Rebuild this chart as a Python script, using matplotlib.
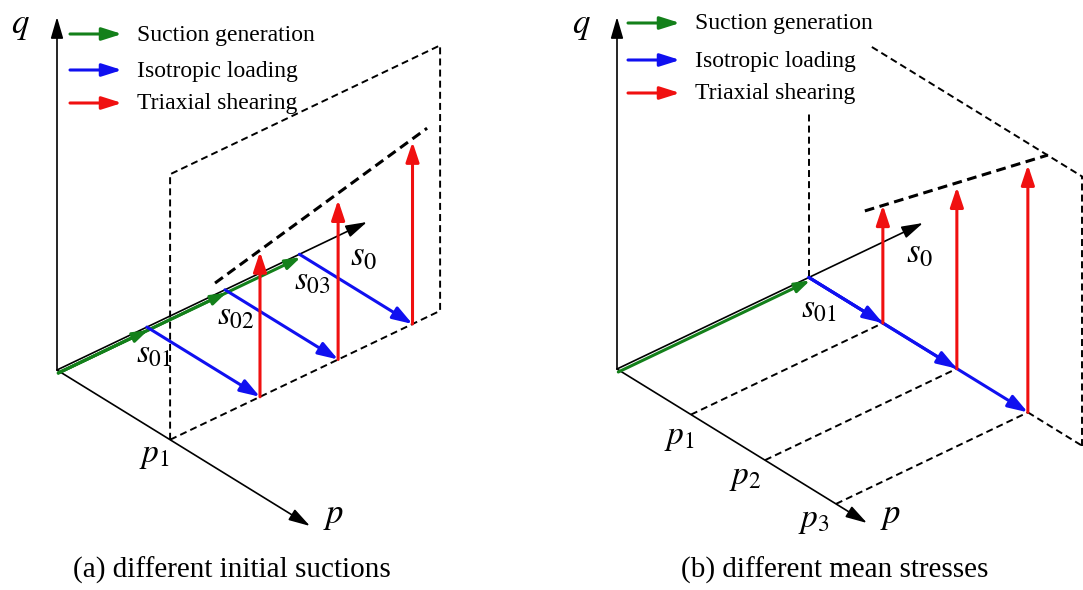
import numpy as np
import matplotlib.pyplot as plt
from matplotlib.patches import FancyArrowPatch

plt.rcParams['font.family'] = ['Liberation Serif', 'DejaVu Serif']
plt.rcParams['mathtext.fontset'] = 'stix'
plt.rcParams['lines.scale_dashes'] = False

# ---- data (diagram units: 1.0 = length of each axis arrow) ----
# panel (a): different initial suctions, one mean stress p1
s0_a = [0.29, 0.542, 0.782]          # s01, s02, s03
p1_a = 0.447
qpeak_a = [0.411, 0.452, 0.516]      # top of each shearing path
fail_a_s = [0.145, 0.829]            # failure line (in plane p = p1)
fail_a_q = [0.383, 0.535]
plane_a_s = 0.871
plane_a_q = 0.752

# panel (b): one suction s01, different mean stresses
s01_b = 0.627
p_b = [0.296, 0.592, 0.876]          # p1, p2, p3
qpeak_b = [0.335, 0.516, 0.703]
fail_b_p = [0.224, 0.956]            # failure line (in plane s = s01)
fail_b_q = [0.287, 0.766]
plane_b_p = 1.092
plane_b_q = 0.765
plane_b_top_p0 = 0.252
plane_b_left_q = 0.469

legend_labels = ['Suction generation', 'Isotropic loading', 'Triaxial shearing']
GREEN, BLUE, RED = '#13801a', '#1010f0', '#f01010'
legend_colors = [GREEN, BLUE, RED]

# ---- oblique projection of each panel (pixel space) ----
frames = {
    'a': dict(O=np.array([57., 370.]), P=np.array([253., 156.]),
              S=np.array([310., -148.]), Q=np.array([0., -353.])),
    'b': dict(O=np.array([617., 369.]), P=np.array([250., 154.]),
              S=np.array([306., -146.]), Q=np.array([0., -352.])),
}


def proj(f, p, s, q):
    return f['O'] + p * f['P'] + s * f['S'] + q * f['Q']


fig = plt.figure(figsize=(10.83, 5.90), dpi=100)
ax = fig.add_axes([0, 0, 1, 1])
ax.set_xlim(0, 1083)
ax.set_ylim(590, 0)
ax.axis('off')


def arrow(a, b, color, lw=2.2, hl=11, hw=3.8, z=3):
    ax.add_patch(FancyArrowPatch(tuple(a), tuple(b),
                                 arrowstyle=f'-|>,head_length={hl},head_width={hw}',
                                 mutation_scale=1, color=color, lw=lw,
                                 shrinkA=0, shrinkB=0, zorder=z))


def dashed(pts, lw=1.4, dashes=(5, 3), z=1):
    pts = np.array(pts)
    ax.plot(pts[:, 0], pts[:, 1], color='k', lw=lw, dashes=dashes, zorder=z)


def axes3(f):
    o = f['O']
    for v in ('P', 'S', 'Q'):
        arrow(o, o + f[v], 'k', lw=1.2, hl=13, hw=3.8, z=2)


def legend(x0, ys):
    for y, lab, c in zip(ys, legend_labels, legend_colors):
        arrow((x0, y), (x0 + 52, y), c, lw=2.2, hl=12, hw=3.8)
        ax.text(x0 + 67, y + 1, lab, fontsize=17, ha='left', va='center')


# offset of the green path just under the s axis
green_off = np.array([1.3, 3.0])

# ---------------- panel (a) ----------------
fa = frames['a']
axes3(fa)
# plane p = p1
dashed([proj(fa, p1_a, 0, 0), proj(fa, p1_a, 0, plane_a_q),
        proj(fa, p1_a, plane_a_s, plane_a_q), proj(fa, p1_a, plane_a_s, 0),
        proj(fa, p1_a, 0, 0)])
# failure line
dashed([proj(fa, p1_a, fail_a_s[0], fail_a_q[0]),
        proj(fa, p1_a, fail_a_s[1], fail_a_q[1])], lw=2.2, dashes=(7, 4))
for s, qp in zip(s0_a, qpeak_a):
    arrow(proj(fa, 0, 0, 0) + green_off, proj(fa, 0, s, 0) + green_off, GREEN,
          lw=2.2, hl=9, hw=3.0, z=3)
    arrow(proj(fa, 0, s, 0), proj(fa, p1_a, s, 0), BLUE, hl=12, hw=4.0, z=4)
    arrow(proj(fa, p1_a, s, 0), proj(fa, p1_a, s, qp), RED, hl=12, hw=4.0, z=5)
legend(70, [34, 70, 103])

ax.text(20, 25, '$q$', fontsize=25, ha='center', va='center')
ax.text(334, 515, '$p$', fontsize=25, ha='center', va='center')
ax.text(364, 257, '$s_0$', fontsize=25, ha='center', va='center')
ax.text(154, 456, '$p_1$', fontsize=24, ha='center', va='center')
for (x, y), lab in zip([(154, 354), (236, 316), (312, 281)],
                       ['$s_{01}$', '$s_{02}$', '$s_{03}$']):
    ax.text(x, y, lab, fontsize=24, ha='center', va='center')
ax.text(232, 570, '(a) different initial suctions', fontsize=21,
        ha='center', va='center')

# ---------------- panel (b) ----------------
fb = frames['b']
axes3(fb)
# plane s = s01
dashed([proj(fb, 0, s01_b, 0), proj(fb, 0, s01_b, plane_b_left_q)])
dashed([proj(fb, plane_b_top_p0, s01_b, plane_b_q),
        proj(fb, 1.3, s01_b, plane_b_q)])
dashed([proj(fb, plane_b_p, s01_b, 0), proj(fb, plane_b_p, s01_b, plane_b_q)])
dashed([proj(fb, p_b[-1], s01_b, 0), proj(fb, plane_b_p, s01_b, 0)])
for p in p_b:
    dashed([proj(fb, p, 0, 0), proj(fb, p, s01_b, 0)])
# failure line
dashed([proj(fb, fail_b_p[0], s01_b, fail_b_q[0]),
        proj(fb, fail_b_p[1], s01_b, fail_b_q[1])], lw=2.2, dashes=(7, 4))
arrow(proj(fb, 0, 0, 0) + green_off, proj(fb, 0, s01_b, 0) + green_off, GREEN,
      lw=2.2, hl=9, hw=3.0, z=3)
for p, qp in zip(p_b, qpeak_b):
    arrow(proj(fb, 0, s01_b, 0), proj(fb, p, s01_b, 0), BLUE, hl=12, hw=4.0, z=4)
    arrow(proj(fb, p, s01_b, 0), proj(fb, p, s01_b, qp), RED, hl=12, hw=4.0, z=5)
legend(628, [23, 60, 93])

ax.text(581, 25, '$q$', fontsize=25, ha='center', va='center')
ax.text(891, 516, '$p$', fontsize=25, ha='center', va='center')
ax.text(920, 254, '$s_0$', fontsize=25, ha='center', va='center')
ax.text(819, 309, '$s_{01}$', fontsize=24, ha='center', va='center')
for (x, y), lab in zip([(679, 438), (745, 478), (814, 521)],
                       ['$p_1$', '$p_2$', '$p_3$']):
    ax.text(x, y, lab, fontsize=24, ha='center', va='center')
ax.text(835, 570, '(b) different mean stresses', fontsize=21,
        ha='center', va='center')

fig.savefig('out.png', dpi=100)
